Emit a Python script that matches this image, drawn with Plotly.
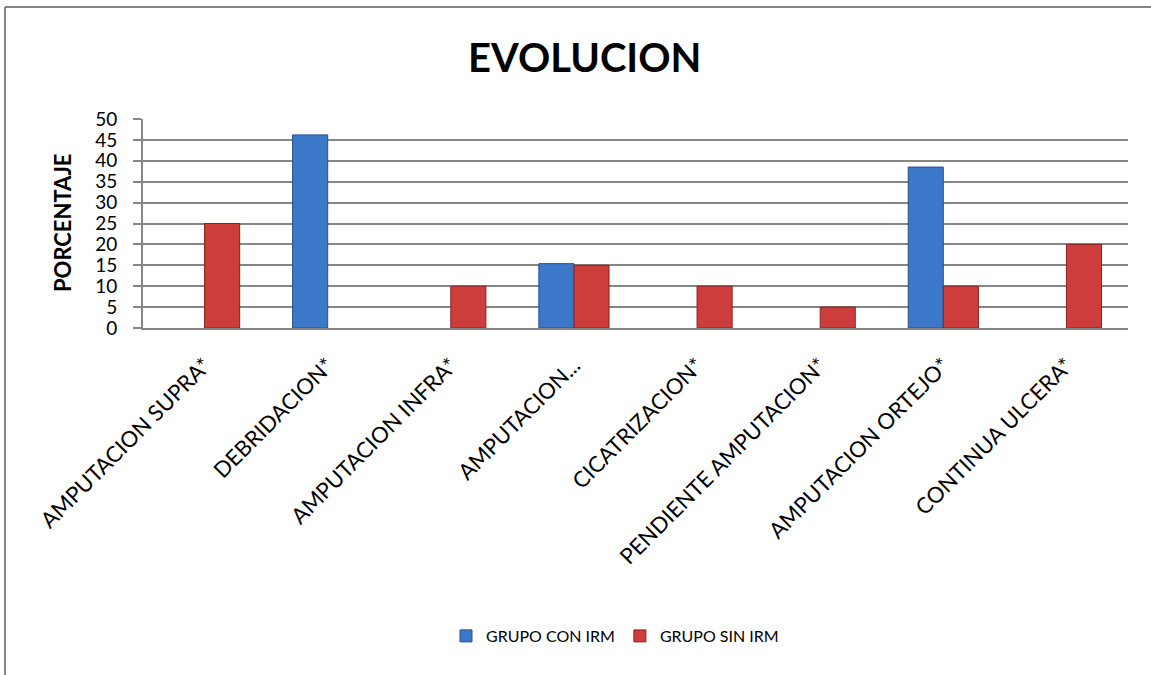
import plotly.graph_objects as go

categories = ["AMPUTACION SUPRA*", "DEBRIDACION*", "AMPUTACION INFRA*", "AMPUTACION...",
              "CICATRIZACION*", "PENDIENTE AMPUTACION*", "AMPUTACION ORTEJO*", "CONTINUA ULCERA*"]
con_irm = [0, 46.2, 0, 15.4, 0, 0, 38.5, 0]
sin_irm = [25, 0, 10, 15, 10, 5, 10, 20]
y_ticks = [0, 5, 10, 15, 20, 25, 30, 35, 40, 45, 50]

FONT = "Lato"
GRID = "#868686"


def hide_zero(vals):
    return [v if v else None for v in vals]


fig = go.Figure()
fig.add_trace(go.Bar(name="GRUPO CON IRM", x=categories, y=hide_zero(con_irm),
                     marker=dict(color="#3B78C9", line=dict(color="#24528F", width=1))))
fig.add_trace(go.Bar(name="GRUPO SIN IRM", x=categories, y=hide_zero(sin_irm),
                     marker=dict(color="#CD3D3B", line=dict(color="#8A2221", width=1))))

L, R, T, B = 143, 23, 119, 347
W, H = 1151, 675
pw, ph = W - L - R, H - T - B


def px_x(x):
    return (x - L) / pw


def px_y(y):
    return (H - B - y) / ph


fig.update_layout(
    width=W, height=H,
    margin=dict(l=L, r=R, t=T, b=B),
    paper_bgcolor="white", plot_bgcolor="white",
    barmode="group", bargap=0.43, bargroupgap=0,
    font=dict(family=FONT, color="#000000"),
    title=dict(text="<b>EVOLUCION</b>", x=0.508, xanchor="center", y=1 - 58 / H,
               yanchor="middle", font=dict(size=40, family=FONT, color="#000000")),
    legend=dict(orientation="h", x=px_x(615), xanchor="center", y=px_y(636),
                yanchor="middle", font=dict(size=16, family=FONT), traceorder="normal",
                itemwidth=30),
    xaxis=dict(tickangle=-45, tickfont=dict(size=22, family=FONT), showgrid=False,
               showline=True, linecolor=GRID, linewidth=2, ticks="",
               ticklabelstandoff=14),
    yaxis=dict(range=[0, 50], tickvals=y_ticks, tickfont=dict(size=19, family=FONT),
               showgrid=True, gridcolor=GRID, gridwidth=2, showline=True,
               linecolor=GRID, linewidth=2, ticks="outside", ticklen=8,
               tickcolor=GRID, tickwidth=2, zeroline=False, ticklabelstandoff=12),
    annotations=[dict(text="<b>PORCENTAJE</b>", xref="paper", yref="paper",
                      x=px_x(62), y=px_y(223), textangle=-90, showarrow=False,
                      font=dict(size=22, family=FONT, color="#000000"),
                      xanchor="center", yanchor="middle")],
    shapes=[
        dict(type="line", xref="paper", yref="paper", x0=px_x(5), x1=px_x(5),
             y0=px_y(7), y1=px_y(675), line=dict(color=GRID, width=2)),
        dict(type="line", xref="paper", yref="paper", x0=px_x(5), x1=px_x(1151),
             y0=px_y(7), y1=px_y(7), line=dict(color=GRID, width=2)),
    ],
)

fig.write_html("out.html")
